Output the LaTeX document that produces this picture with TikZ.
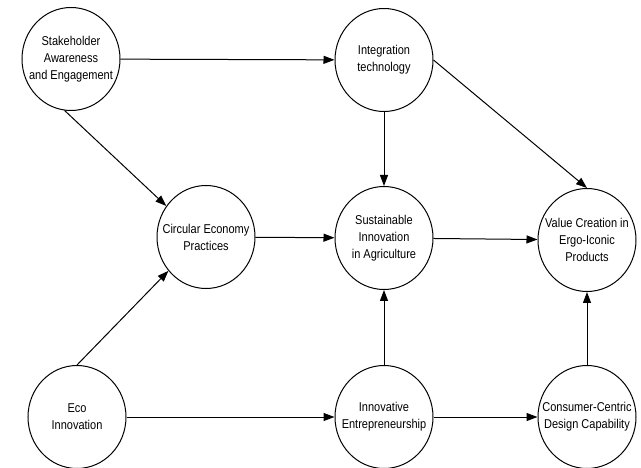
\documentclass[tikz,border=0pt]{standalone}
\usepackage{fontspec}
\setmainfont{Liberation Sans}[FakeStretch=0.86]
\usetikzlibrary{arrows.meta,shapes.geometric}
\begin{document}
\begin{tikzpicture}[x=1pt,y=-1pt,
  nd/.style={ellipse,draw,line width=1pt,minimum width=98pt,minimum height=103pt,inner sep=0pt},
  lbl/.style={align=center,font=\fontsize{12.8}{17}\selectfont,inner sep=0pt},
  arr/.style={-{Triangle[length=11pt,width=8pt]},line width=1pt}]
\useasboundingbox (0,0) rectangle (641,468);
\node[nd,label={[lbl]center:{Stakeholder\\Awareness\\and Engagement}}] (sae) at (71,59) {};
\node[nd,label={[lbl]center:{Integration\\technology}}] (it) at (384,60) {};
\node[nd,label={[lbl]center:{Circular Economy\\Practices}}] (cep) at (206,237) {};
\node[nd,label={[lbl]center:{Sustainable\\Innovation\\in Agriculture}}] (sia) at (384,238) {};
\node[nd,label={[lbl]center:{Value Creation in\\Ergo-Iconic\\Products}}] (vc) at (587,240) {};
\node[nd,label={[lbl]center:{Eco\\Innovation}}] (eco) at (77,417) {};
\node[nd,label={[lbl]center:{Innovative\\Entrepreneurship}}] (ie) at (384,417) {};
\node[nd,label={[lbl]center:{Consumer-Centric\\Design Capability}}] (ccd) at (587,417) {};
\draw[arr] (sae) -- (it);
\draw[arr] (sae.-97) -- (cep.142);
\draw[arr] (it) -- (sia);
\draw[arr] (it.east) -- (vc.north);
\draw[arr] (cep) -- (sia);
\draw[arr] (sia) -- (vc);
\draw[arr] (eco.north) -- (cep.222);
\draw[arr] (eco) -- (ie);
\draw[arr] (ie) -- (sia);
\draw[arr] (ie) -- (ccd);
\draw[arr] (ccd) -- (vc);
\end{tikzpicture}
\end{document}
